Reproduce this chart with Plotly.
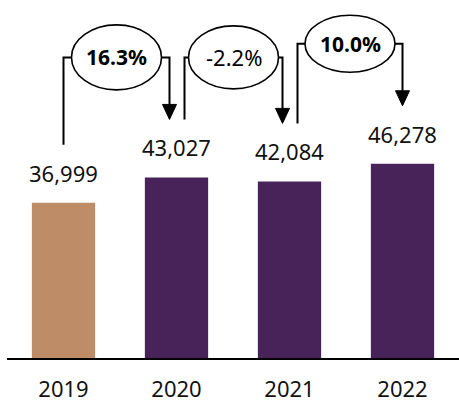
import plotly.graph_objects as go

# ---- data ----
years = ["2019", "2020", "2021", "2022"]
values = [36999, 43027, 42084, 46278]
changes = ["16.3%", "-2.2%", "10.0%"]
change_bold = [True, False, True]

# ---- style ----
bar_colors = ["#BF8C68", "#48235A", "#48235A", "#48235A"]
ellipse_ry = [32.5, 31.5, 28.5]   # px
ELL_RX = 45                        # px
FONT = "Noto Sans"

W, H = 459, 403
ML, MR, MT, MB = 7, 0, 0, 45
Y_MAX = 85300
plot_w = W - ML - MR
plot_h = H - MT - MB
n = len(years)
px_per_cat = plot_w / n
data_per_px = Y_MAX / plot_h


def dx(p):
    return p / px_per_cat


def dy(p):
    return p * data_per_px


fig = go.Figure()
fig.add_trace(go.Bar(
    x=list(range(n)), y=values, marker_color=bar_colors, width=0.56,
    marker_line_width=0, hoverinfo="skip",
))

shapes = []
annotations = []

# value labels
for i, v in enumerate(values):
    annotations.append(dict(
        x=i, y=v, xref="x", yref="y", text=f"{v:,}", showarrow=False,
        yshift=30, yanchor="middle", xanchor="center",
        font=dict(family=FONT, size=22, color="#111111"),
    ))

# growth connectors
for i, label in enumerate(changes):
    a, b = i, i + 1
    xs = a + dx(8 if a > 0 else 0)
    xe = b - dx(7 if b < n - 1 else 0)
    ys = values[a] + dy(58)
    tip = values[b] + dy(58)
    yh = max(values[a], values[b]) + dy(120)
    xc = (xs + xe) / 2
    rx = dx(ELL_RX)
    ry = dy(ellipse_ry[i])
    head_h = dy(15)
    head_w = dx(7)
    path = (f"M {xs} {ys} L {xs} {yh} L {xc - rx} {yh} "
            f"M {xc + rx} {yh} L {xe} {yh} L {xe} {tip + head_h}")
    shapes.append(dict(type="path", path=path, xref="x", yref="y",
                       line=dict(color="black", width=2)))
    tri = (f"M {xe - head_w} {tip + head_h} L {xe + head_w} {tip + head_h} "
           f"L {xe} {tip} Z")
    shapes.append(dict(type="path", path=tri, xref="x", yref="y",
                       fillcolor="black", line=dict(color="black", width=1)))
    shapes.append(dict(type="circle", xref="x", yref="y",
                       x0=xc - rx, x1=xc + rx, y0=yh - ry, y1=yh + ry,
                       line=dict(color="black", width=1.6), fillcolor="white"))
    txt = f"<b>{label}</b>" if change_bold[i] else label
    annotations.append(dict(
        x=xc, y=yh, xref="x", yref="y", text=txt, showarrow=False,
        xanchor="center", yanchor="middle",
        font=dict(family=FONT, size=21 if change_bold[i] else 22, color="black"),
    ))

fig.update_layout(
    width=W, height=H,
    autosize=False,
    margin=dict(l=ML, r=MR, t=MT, b=MB, pad=0, autoexpand=False),
    paper_bgcolor="white", plot_bgcolor="white",
    showlegend=False,
    shapes=shapes, annotations=annotations,
    xaxis=dict(
        range=[-0.5, n - 0.5], tickvals=list(range(n)), ticktext=years,
        showline=True, linecolor="black", linewidth=2,
        showgrid=False, zeroline=False, ticks="",
        ticklabelstandoff=11, automargin=False,
        tickfont=dict(family=FONT, size=22, color="#111111"),
        fixedrange=True,
    ),
    yaxis=dict(range=[0, Y_MAX], visible=False, fixedrange=True,
               automargin=False),
)

fig.write_html(
    "out.html",
    config={"displayModeBar": False},
    post_script="document.body.style.margin='0px';document.body.style.overflow='hidden';",
)
